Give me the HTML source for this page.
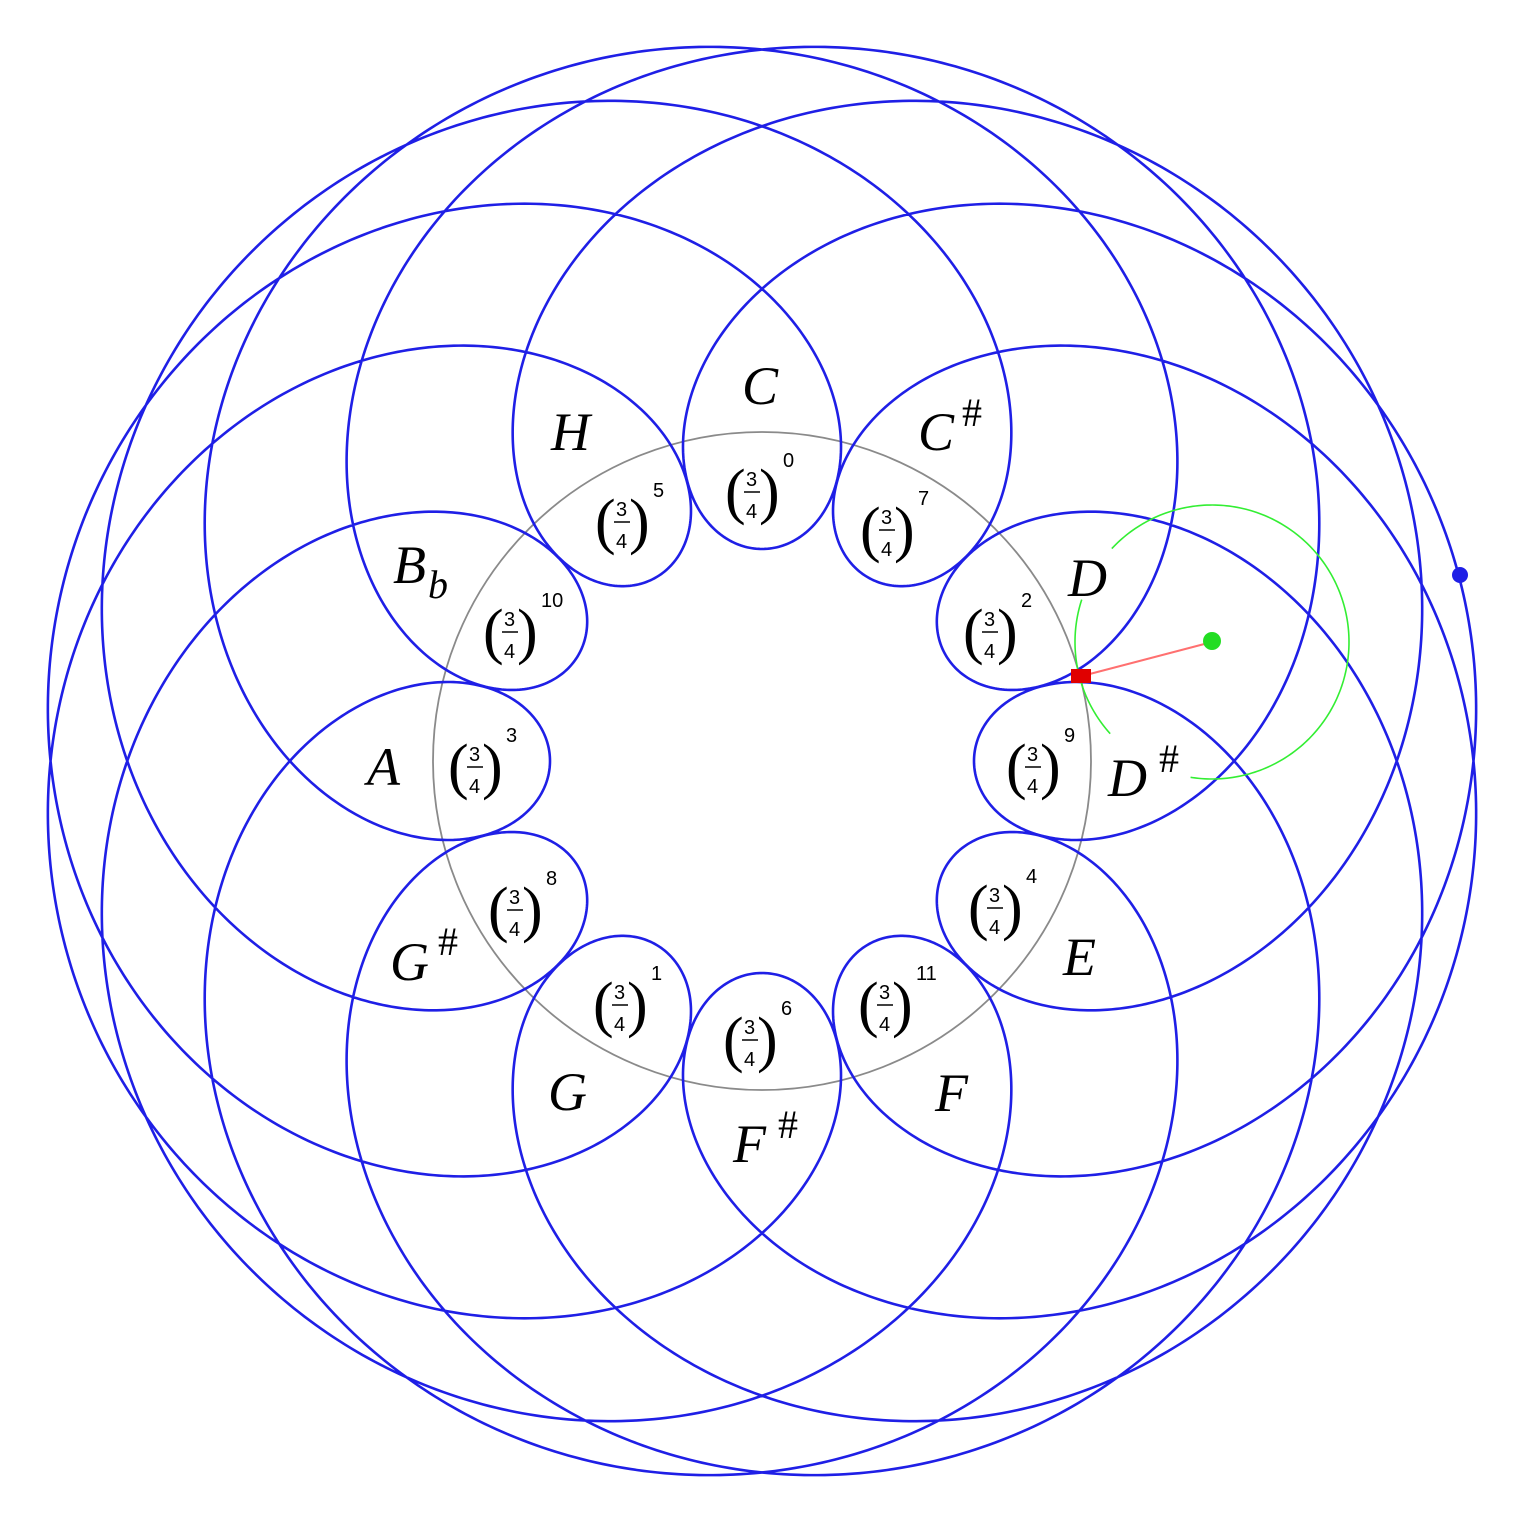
<!DOCTYPE html>
<html><head><meta charset="utf-8"><style>
html,body{margin:0;padding:0;background:#fff}
svg{display:block}
.n{font-family:"Liberation Serif",serif;font-style:italic;font-size:54px;fill:#000}
.s{font-family:"Liberation Serif",serif;font-size:40px;fill:#000}
.d{font-family:"Liberation Sans",sans-serif;font-size:20px;fill:#000}
.p{font-family:"Liberation Serif",serif;font-size:62px;fill:#000}
</style></head><body>
<svg id="svg" width="1528" height="1526" viewBox="0 0 1528 1526" xmlns="http://www.w3.org/2000/svg">
<circle cx="762" cy="761" r="329" fill="none" stroke="#8a8a8a" stroke-width="1.8"/>
<path id="curve" d="" fill="none" stroke="#1f1fe6" stroke-width="2.6"/>
<path id="g1" d="" fill="none" stroke="#33ee33" stroke-width="1.6"/>
<path id="g2" d="" fill="none" stroke="#33ee33" stroke-width="1.6"/>
<line x1="1082" y1="676" x2="1212" y2="642" stroke="#ff7070" stroke-width="2"/>
<rect x="1071" y="669" width="20" height="14" fill="#e00000"/>
<circle cx="1212" cy="641" r="9" fill="#22dd22"/>
<circle cx="1460" cy="575" r="8" fill="#1f1fe6"/>

<text class="n" x="742" y="404">C</text>
<text class="n" x="551" y="450">H</text>
<text class="n" x="918" y="450">C</text><text class="s" x="962" y="426">#</text>
<text class="n" x="1068" y="596">D</text>
<text class="n" x="1108" y="796">D</text><text class="s" x="1159" y="772">#</text>
<text class="n" x="1063" y="975">E</text>
<text class="n" x="935" y="1111">F</text>
<text class="n" x="733" y="1162">F</text><text class="s" x="778" y="1138">#</text>
<text class="n" x="390" y="980">G</text><text class="s" x="438" y="955">#</text>
<text class="n" x="548" y="1110">G</text>
<text class="n" x="367" y="785">A</text>
<text class="n" x="393" y="583">B</text><text class="n" x="428" y="598" style="font-size:40px">b</text>

<g id="fr"></g>
</svg>
<script>
(function(){
var cx=762,cy=761,A=466.5,B=254.5,d="";
var N=6000;
for(var i=0;i<=N;i++){
 var t=10*Math.PI*i/N;
 var X=A*Math.cos(t)-B*Math.cos(17*t/5);
 var Y=A*Math.sin(t)-B*Math.sin(17*t/5);
 var xr=-Y, yr=X;
 var x=cx+xr, y=cy-yr;
 d+=(i?"L":"M")+x.toFixed(2)+" "+y.toFixed(2);
}
document.getElementById("curve").setAttribute("d",d+"Z");
function arc(a0,a1){var s="",gx=1212,gy=642,r=137,n=200;
 for(var i=0;i<=n;i++){var a=(a0+(a1-a0)*i/n)*Math.PI/180;
 s+=(i?"L":"M")+(gx+r*Math.cos(a)).toFixed(2)+" "+(gy+r*Math.sin(a)).toFixed(2);}return s;}
document.getElementById("g1").setAttribute("d",arc(99,-137));
document.getElementById("g2").setAttribute("d",arc(-162,-222));
var F=[[752,492,"0"],[622,522,"5"],[887,530,"7"],[990,632,"2"],[510,632,"10"],[475,767,"3"],[1033,767,"9"],[515,910,"8"],[995,908,"4"],[620,1005,"1"],[750,1040,"6"],[885,1005,"11"]];
var h="";
F.forEach(function(f){var x=f[0],y=f[1];
 h+='<text class="p" x="'+(x-27)+'" y="'+(y+20)+'">(</text>';
 h+='<text class="p" x="'+(x+7)+'" y="'+(y+20)+'">)</text>';
 h+='<text class="d" x="'+(x-6)+'" y="'+(y-6)+'">3</text>';
 h+='<line x1="'+(x-8)+'" y1="'+(y)+'" x2="'+(x+8)+'" y2="'+(y)+'" stroke="#000" stroke-width="1.5"/>';
 h+='<text class="d" x="'+(x-6)+'" y="'+(y+26)+'">4</text>';
 h+='<text class="d" x="'+(x+31)+'" y="'+(y-25)+'">'+f[2]+'</text>';
});
document.getElementById("fr").innerHTML=h;
})();
</script>
</body></html>
